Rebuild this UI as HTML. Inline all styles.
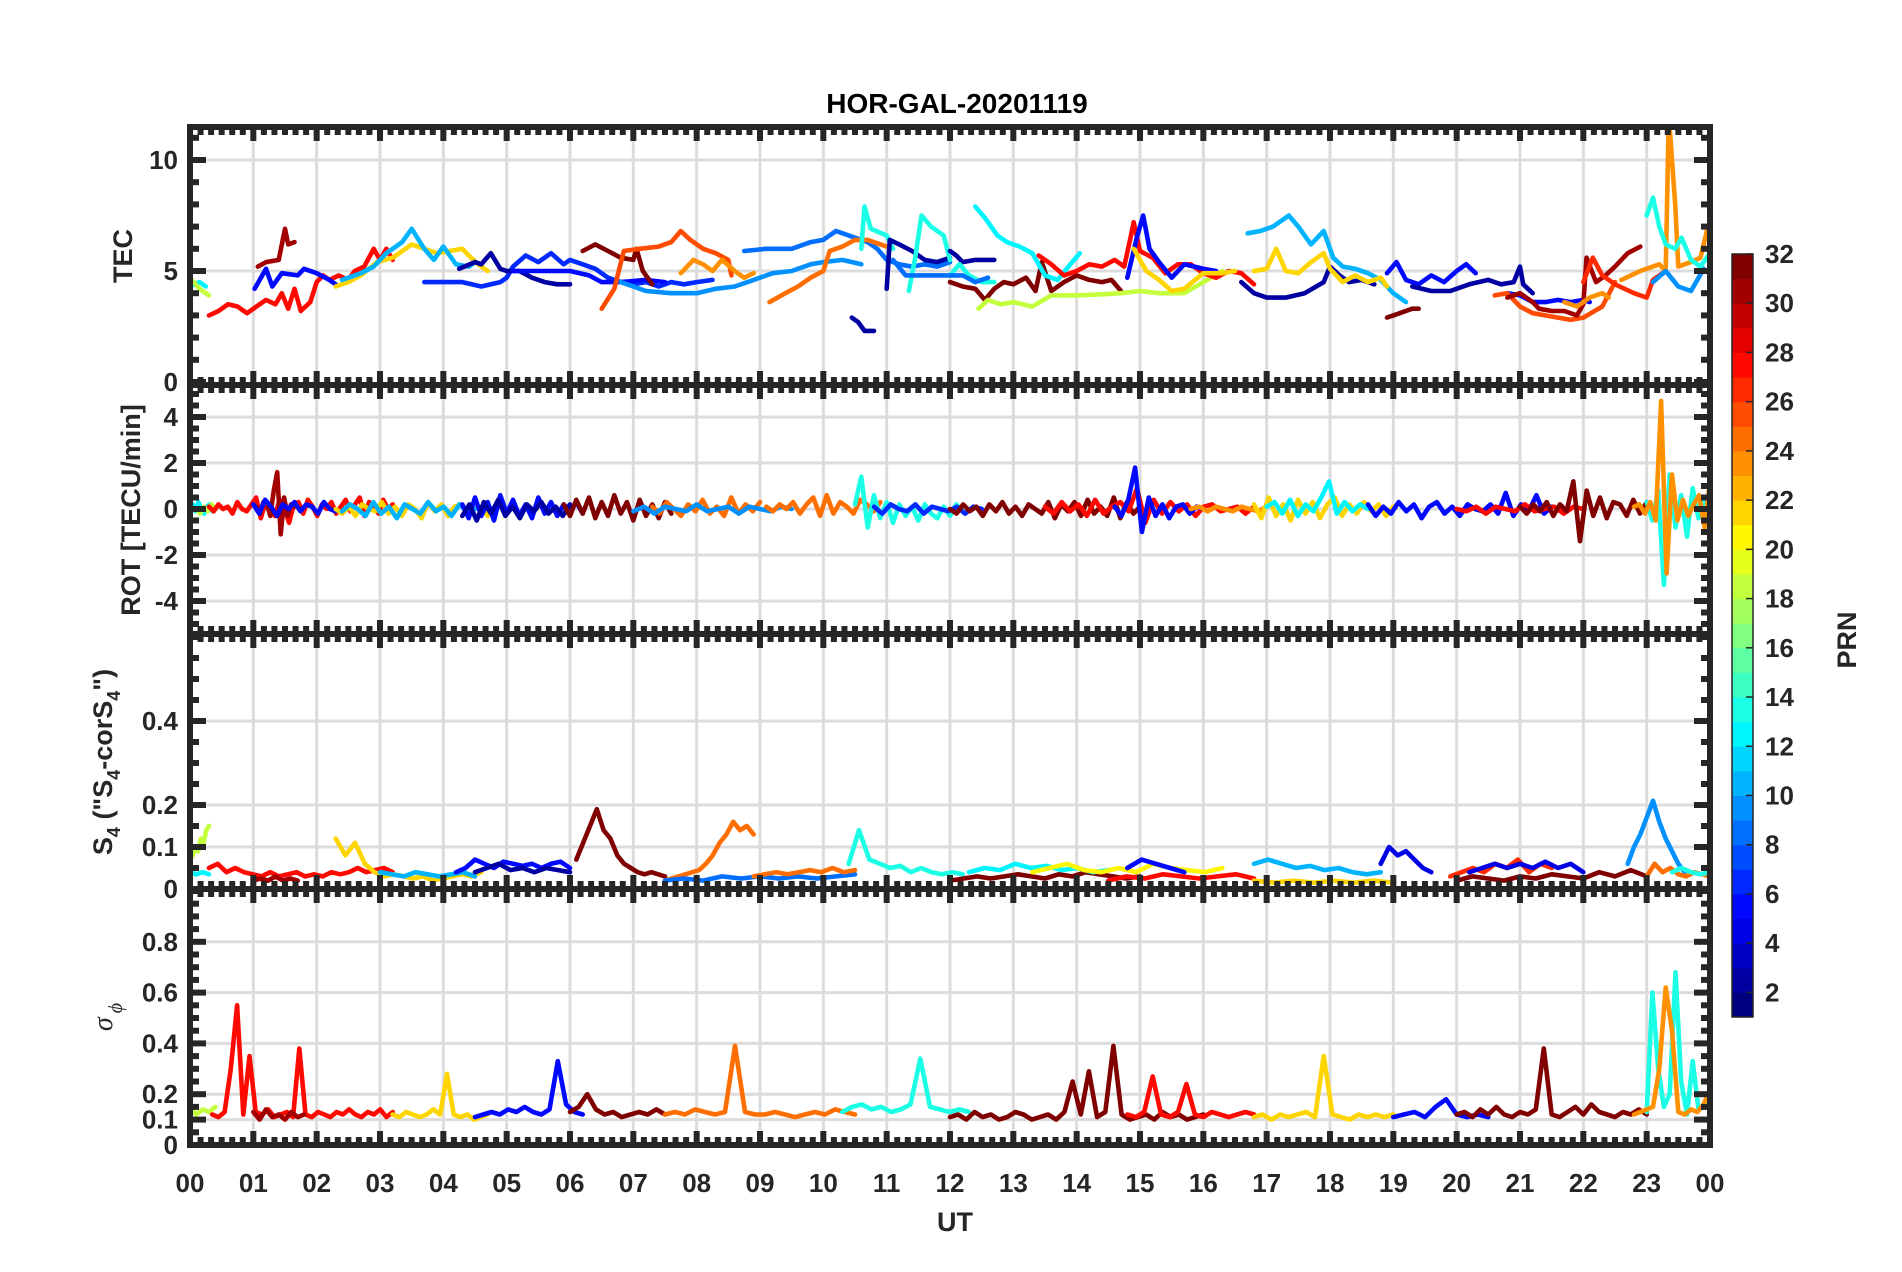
<!DOCTYPE html>
<html><head><meta charset="utf-8"><title>HOR-GAL-20201119</title>
<style>
html,body{margin:0;padding:0;background:#fff;}
svg{display:block;font-family:"Liberation Sans",Arial,sans-serif;}
</style></head>
<body>
<svg id="fig" width="1902" height="1272" viewBox="0 0 1902 1272" xmlns="http://www.w3.org/2000/svg">
<rect x="0" y="0" width="1902" height="1272" fill="#fff"/>
<text x="957" y="113" text-anchor="middle" font-size="28" font-weight="bold" fill="#000">HOR-GAL-20201119</text>
<g id="panels"></g>
<g id="cbar"></g>
<text x="955" y="1231" text-anchor="middle" font-size="27" font-weight="bold" fill="#262626">UT</text>
</svg>
<script>
// ---------------- DATA ----------------
const hourTicks = ["00","01","02","03","04","05","06","07","08","09","10","11","12","13","14","15","16","17","18","19","20","21","22","23","00"];
const cbarTicks = [2,4,6,8,10,12,14,16,18,20,22,24,26,28,30,32];

// TEC tracks
const tecPrn = [12,18,27,30,5,21,10,2,6,2,5,31,25,23,9,8,24,13,2,2,13,8,
  2,13,8,31,12,18,27,5,21,2,10,21,31,5,2,5,25,30,23,26,23,9,13];
const tecHours = [
 [0,0.15,0.25],[0,0.15,0.3],
 [0.3,0.45,0.6,0.75,0.9,1.05,1.2,1.35,1.45,1.55,1.65,1.75,1.9,2.0,2.1,2.2,2.35,2.5,2.6,2.75,2.9,3.0,3.1,3.2],
 [1.07,1.2,1.4,1.5,1.55,1.65],
 [1.02,1.2,1.3,1.45,1.7,1.8,2.0,2.2,2.3],
 [2.3,2.5,2.7,2.95,3.2,3.5,3.7,3.9,4.1,4.3,4.4,4.55,4.7],
 [2.4,2.7,2.9,3.1,3.35,3.5,3.7,3.85,4.0,4.2,4.4,4.5],
 [4.25,4.5,4.6,4.75,4.9,5.0],
 [3.7,4.0,4.3,4.6,4.9,5.0,5.1,5.3,5.5,5.7,5.9,6.0,6.2,6.4,6.6,6.8,7.0,7.2,7.4,7.6,7.8,8.0,8.25],
 [5.0,5.2,5.4,5.6,5.8,6.0],
 [5.1,5.5,6.0,6.3,6.5,6.8,7.2,7.5],
 [6.2,6.4,6.6,6.8,7.0,7.05,7.15,7.3],
 [6.5,6.7,6.85,7.1,7.4,7.6,7.75,7.9,8.1,8.3,8.5,8.55],
 [7.75,7.95,8.1,8.25,8.4,8.6,8.75,8.9],
 [6.8,7.2,7.6,8.0,8.3,8.6,8.9,9.2,9.5,9.8,10.0,10.3,10.6],
 [8.75,9.1,9.5,9.8,10.0,10.2,10.5,10.7,10.85,11.0,11.2,11.4,11.6,11.8,12.0],
 [9.15,9.4,9.6,9.8,10.0,10.1,10.3,10.5,10.7,11.0],
 [10.6,10.65,10.75,11.0,11.1],
 [10.45,10.55,10.65,10.8],
 [11.0,11.05,11.2,11.4,11.6,11.8,12.0],
 [11.35,11.45,11.55,11.7,11.9,12.0],
 [11.1,11.3,11.6,11.9,12.0],
 [12.0,12.1,12.2,12.4,12.7],
 [12.0,12.15,12.3,12.5,12.7],
 [12.0,12.2,12.4,12.6],
 [12.0,12.2,12.4,12.55,12.7,12.85,13.0,13.2,13.35,13.45,13.6,13.8,14.0,14.2,14.4,14.55,14.7],
 [12.4,12.55,12.75,12.9,13.1,13.3,13.5,13.7,13.9,14.05],
 [12.45,12.6,12.8,13.0,13.3,13.6,14.0,14.4,14.7,15.0,15.3,15.7,16.0,16.3],
 [13.4,13.6,13.8,14.0,14.2,14.4,14.6,14.75,14.85,14.9,15.0,15.2,15.4,15.6,15.8,16.0,16.2,16.4,16.6,16.8],
 [14.8,14.95,15.05,15.15,15.3,15.5,15.7,16.0,16.2],
 [14.9,15.1,15.3,15.5,15.7,16.0,16.3,16.5],
 [16.6,16.8,17.0,17.3,17.6,17.9,18.0,18.15,18.3,18.5,18.7],
 [16.7,16.9,17.1,17.35,17.5,17.7,17.9,18.05,18.2,18.4,18.6,18.8,19.0,19.2],
 [16.8,17.0,17.15,17.3,17.5,17.7,17.9,18.0,18.2,18.4,18.6,18.8,18.9],
 [18.9,19.1,19.3,19.4],
 [18.9,19.05,19.2,19.4,19.6,19.8,20.0,20.15,20.3],
 [19.3,19.6,19.9,20.2,20.5,20.7,20.9,21.0,21.05,21.2],
 [20.8,21.0,21.2,21.4,21.6,21.8,22.0,22.1],
 [20.6,20.8,21.0,21.2,21.4,21.6,21.8,22.0,22.3,22.5],
 [20.8,21.0,21.2,21.3,21.5,21.7,21.9,22.0,22.05,22.2,22.35,22.5,22.7,22.9],
 [21.7,21.9,22.1,22.3,22.4],
 [22.0,22.15,22.3,22.5,22.8,23.0,23.1,23.3],
 [22.6,22.9,23.2,23.3,23.35,23.45,23.5,23.7,23.85,23.95,24.0],
 [23.1,23.3,23.5,23.7,23.9],
 [23.0,23.1,23.2,23.3,23.45,23.55,23.7,23.85,24.0]
];
const tecValues = [
 [4.3,4.5,4.3],[4.7,4.2,3.9],
 [3.0,3.2,3.5,3.4,3.1,3.4,3.7,3.5,4.0,3.3,4.2,3.2,3.6,4.5,4.8,4.6,4.8,4.6,5.0,5.2,6.0,5.5,6.0,5.5],
 [5.2,5.4,5.5,6.9,6.2,6.3],
 [4.2,5.1,4.3,4.9,4.8,5.1,4.9,4.6,4.4],
 [4.3,4.5,4.8,5.4,5.6,6.2,6.0,5.8,5.9,6.0,5.7,5.3,5.0],
 [4.6,4.9,5.2,5.8,6.3,6.9,6.0,5.5,6.1,5.3,5.2,5.4],
 [5.1,5.4,5.3,5.8,5.1,5.0],
 [4.5,4.5,4.5,4.3,4.5,4.7,5.2,5.7,5.4,5.8,5.3,5.5,5.3,5.1,4.7,4.5,4.4,4.5,4.3,4.5,4.4,4.5,4.6],
 [5.0,5.0,4.7,4.5,4.4,4.4],
 [5.0,5.0,5.0,4.8,4.5,4.5,4.6,4.5],
 [5.9,6.2,5.9,5.6,5.5,6.0,5.0,4.4],
 [3.3,4.2,5.9,6.0,6.1,6.3,6.8,6.4,6.0,5.8,5.5,4.8],
 [4.9,5.5,5.3,5.0,5.5,5.0,4.7,4.9],
 [4.5,4.1,4.0,4.0,4.2,4.3,4.6,4.9,5.0,5.3,5.4,5.5,5.3],
 [5.9,6.0,6.0,6.3,6.4,6.8,6.5,6.3,6.0,5.5,5.3,5.2,5.3,5.2,5.4],
 [3.6,4.0,4.3,4.7,5.0,5.9,6.1,6.4,6.4,6.1],
 [6.0,7.9,6.9,6.6,6.0],
 [2.9,2.7,2.3,2.3],
 [4.2,6.4,6.2,5.9,5.5,5.4,5.6],
 [4.1,5.6,7.5,7.0,6.6,5.5],
 [5.5,4.8,4.8,4.8,4.8],
 [5.9,5.7,5.4,5.5,5.5],
 [4.8,5.3,4.8,4.5,4.5],
 [4.8,4.8,4.5,4.7],
 [4.5,4.3,4.2,3.7,4.2,4.5,4.4,4.7,4.1,5.4,4.1,4.5,4.8,4.6,4.5,4.6,4.1],
 [7.9,7.4,6.6,6.3,6.1,5.8,4.8,4.6,5.3,5.8],
 [3.3,3.7,3.5,3.6,3.4,3.9,3.9,3.95,4.0,4.1,4.0,4.0,4.5,5.0],
 [5.7,5.3,4.8,5.0,5.3,5.2,5.5,5.2,6.5,7.2,5.9,5.6,4.9,5.3,5.3,4.9,4.7,5.0,4.9,4.4],
 [4.7,6.5,7.5,6.0,5.4,4.7,5.3,5.1,5.0],
 [6.0,5.0,4.6,4.1,4.2,4.9,4.9,5.0],
 [4.5,4.0,3.8,3.8,4.0,4.5,5.2,4.8,4.5,4.6,4.4],
 [6.7,6.8,7.0,7.5,7.0,6.2,6.8,5.6,5.2,5.1,4.9,4.6,4.0,3.6],
 [5.0,5.1,6.0,5.0,4.9,5.4,5.8,5.1,4.5,4.8,4.5,4.7,4.3],
 [2.9,3.1,3.3,3.3],
 [4.9,5.4,4.6,4.4,4.8,4.5,5.0,5.3,4.9],
 [4.3,4.1,4.1,4.4,4.6,4.4,4.5,5.2,4.4,4.0],
 [4.0,3.9,3.6,3.6,3.7,3.6,3.7,3.6],
 [3.9,4.0,3.4,3.1,3.0,2.9,2.8,2.9,3.4,4.5],
 [3.8,4.0,3.6,3.3,3.2,3.2,3.0,3.5,5.6,4.5,4.8,5.2,5.8,6.1],
 [3.6,3.4,3.8,4.0,3.8],
 [4.5,5.6,4.8,4.4,4.0,3.8,4.6,5.0],
 [4.6,5.0,5.3,5.0,12,8.0,5.2,5.4,5.6,6.8,7.2],
 [4.5,5.0,4.3,4.1,5.1],
 [7.5,8.3,7.0,6.2,6.0,6.5,5.5,5.2,5.8]
];

// ROT segments (values evenly spaced between start and end hour)
const rotPrn = [12,18,27,30,5,21,10,5,2,31,24,9,24,13,6,31,27,5,23,21,12,5,27,31,13,23];
const rotStart = [0,0.1,0.3,1.05,1.0,2.3,2.4,4.3,4.3,5.9,7.3,7.0,9.1,10.5,10.8,12.0,13.5,14.6,15.8,16.8,17.0,18.6,20.0,21.0,23.0,22.8];
const rotEnd = [0.4,0.4,3.2,1.65,2.3,4.7,4.5,6.2,6.0,7.6,9.0,9.5,10.9,12.2,12.5,15.0,16.8,16.0,17.0,19.0,18.6,21.5,22.0,23.0,24.0,24.0];
const rotValues = [
 [0.1,0.2,-0.1,0.3,0,-0.2,0.1,0.2,-0.1,0],
 [0,-0.2,0.1,-0.1,0.2,0],
 [0.1,-0.1,0.2,0,0.1,-0.2,0.3,0,-0.1,0.2,0.5,-0.4,0.3,0.1,-0.3,0.4,0,-0.6,0.2,0.3,-0.2,0.4,0.1,-0.3,0.2,0,0.3,-0.2,0.1,0.4,-0.1,0.2,0.5,-0.3,0.3,0.1,-0.2,0.4,0,0.2],
 [0.1,-0.2,0.3,0.2,-0.3,0.8,1.6,-1.1,0.5,-0.3,0.2,0.1],
 [0.2,-0.2,0.4,0.1,-0.3,0.2,0,0.3,-0.1,0.2,0.1,-0.2,0.3,0,-0.1],
 [0,-0.2,0.1,-0.3,0.2,0,-0.1,0.3,-0.2,0.1,-0.3,0.2,0,-0.4,0.3,-0.1,0.2,-0.3,0.1,0.2,-0.2,0,0.1,-0.3],
 [-0.1,0.2,0,-0.3,0.3,-0.2,0.1,-0.4,0.2,0,-0.2,0.3,-0.1,0.1,-0.3,0.2,-0.1,0],
 [0.2,-0.4,0.5,-0.3,0.3,-0.5,0.6,-0.2,0.4,-0.3,0.2,-0.4,0.5,-0.2,0.3,-0.3,0.2,-0.1,0.3,-0.2],
 [-0.3,0.2,-0.5,0.3,-0.2,0.4,-0.3,0.1,-0.4,0.2,-0.1,0.3,-0.2,0.1,-0.3,0.2],
 [0.2,-0.3,0.4,-0.2,0.5,-0.4,0.3,-0.3,0.6,-0.2,0.3,-0.5,0.4,-0.3,0.2,-0.4,0.3,-0.2],
 [0.1,-0.2,0.3,0,-0.3,0.2,-0.1,0.4,-0.2,0.1,-0.3,0.5,-0.2,0.2,-0.1,0.3],
 [-0.1,0.1,-0.2,0.1,0,-0.1,0.2,-0.1,0,0.1,-0.2,0.1,0,-0.1,0.1,0],
 [0.1,-0.1,0.2,0,0.3,-0.2,0.2,0.5,-0.3,0.6,-0.2,0.3,0.1,-0.2,0.4,0.2,-0.1,0.3],
 [0.2,1.4,-0.8,0.6,-0.4,0.3,-0.6,0.2,-0.3,0.1,-0.5,0.2,-0.2,-0.4,0.1,-0.3,0.2,-0.1],
 [0.1,-0.2,0.2,0,-0.1,0.2,-0.2,0.1,0,-0.1,0.1,-0.2,0.1,0],
 [0,-0.2,0.2,-0.1,0.1,-0.3,0.2,-0.1,0.3,-0.2,0.1,-0.3,0.2,0,-0.2,0.3,-0.4,0.2,-0.1,0.3,-0.3,0.4,-0.2,0.1,-0.3,0.5,-0.4,0.3,-0.2,0.1],
 [0.1,-0.2,0.3,-0.1,0.2,-0.3,0.4,-0.2,0.1,0.3,-0.1,0.9,-0.6,0.4,-0.2,0.3,-0.1,0.2,-0.3,0.1,0.2,-0.1,0,0.1,-0.2,0.1],
 [0.1,-0.3,0.4,1.8,-1.0,0.5,-0.3,0.2,-0.4,0.1,0.2,-0.2,0.1,0],
 [0,0.1,-0.1,0.1,0,-0.1,0.1,0,-0.1,0.1],
 [0.2,-0.4,0.5,-0.3,0.2,-0.5,0.4,-0.2,0.3,-0.4,0.2,0.5,-0.3,0.2,-0.2,0.3,-0.1,0.2,-0.3,0.1],
 [0.1,0.3,-0.2,0.4,-0.3,0.2,-0.1,0.5,1.2,-0.2,0.3,-0.1,0.2,0],
 [0.2,-0.3,0.1,-0.2,0.3,-0.1,0.2,-0.4,0.1,0.3,-0.2,0.1,-0.3,0.2,0,-0.1,0.2,-0.2,0.7,-0.3,0.2,-0.1,0.6,-0.2,0.1],
 [0,-0.1,0.1,-0.2,0.1,0,-0.1,0.2,-0.1,0,0.1,-0.2,0.1,0],
 [0.1,-0.2,0.2,-0.1,0.3,-0.3,0.2,-0.1,1.2,-1.4,0.8,-0.3,0.5,-0.4,0.3,0.2,-0.3,0.4,-0.2,0.3],
 [0.3,-0.5,0.8,-3.3,1.5,-0.8,0.6,-1.2,0.9,-0.4,0.5,-0.3],
 [0.1,0.2,-0.2,0.3,-0.5,4.7,-2.8,1.5,-0.5,0.4,-0.3,0.2,0.6,-0.8,1.2]
];

// S4 segments
const s4Prn = [18,12,27,30,21,10,5,2,31,24,8,24,13,31,12,20,27,5,10,21,4,26,4,31,9,24,13];
const s4Start = [0,0,0.3,1.0,2.3,3.0,4.2,4.5,6.1,7.5,7.5,8.9,10.4,12.0,12.3,13.3,14.5,14.8,16.8,16.8,18.8,19.9,20.2,20.0,22.7,23.0,23.4];
const s4End = [0.3,0.3,3.2,1.7,4.6,4.5,6.0,6.0,7.5,8.9,10.5,10.5,12.2,15.0,14.5,16.3,16.8,15.7,18.8,19.0,19.6,21.5,22.0,23.0,23.6,24.0,24.0];
const s4Values = [
 [0.07,0.08,0.1,0.09,0.12,0.11,0.14,0.15],
 [0.04,0.035,0.04,0.035],
 [0.05,0.06,0.04,0.05,0.04,0.035,0.03,0.04,0.03,0.035,0.04,0.03,0.035,0.03,0.04,0.035,0.04,0.05,0.04,0.045,0.05,0.04],
 [0.02,0.025,0.02,0.03,0.02,0.025,0.02],
 [0.12,0.08,0.11,0.06,0.04,0.03,0.035,0.03,0.025,0.03,0.02,0.025,0.03,0.035,0.03,0.04],
 [0.04,0.035,0.03,0.04,0.035,0.03,0.035,0.04,0.03],
 [0.04,0.05,0.07,0.06,0.05,0.065,0.06,0.055,0.06,0.05,0.06,0.065,0.05],
 [0.04,0.05,0.06,0.045,0.05,0.04,0.05,0.045,0.04],
 [0.07,0.11,0.15,0.19,0.14,0.12,0.08,0.06,0.05,0.04,0.035,0.04,0.035,0.03],
 [0.02,0.025,0.03,0.035,0.04,0.045,0.06,0.08,0.11,0.13,0.16,0.14,0.15,0.13],
 [0.02,0.025,0.02,0.03,0.025,0.03,0.025,0.03,0.025,0.03,0.035],
 [0.03,0.035,0.04,0.035,0.04,0.045,0.04,0.05,0.04,0.045],
 [0.06,0.14,0.07,0.06,0.05,0.055,0.04,0.05,0.04,0.035,0.04,0.035],
 [0.02,0.025,0.03,0.025,0.03,0.035,0.03,0.025,0.035,0.03,0.04,0.035,0.03,0.025,0.03],
 [0.04,0.05,0.045,0.06,0.05,0.055,0.045,0.05,0.04,0.045],
 [0.04,0.05,0.06,0.045,0.04,0.05,0.04,0.06,0.05,0.045,0.04,0.05],
 [0.02,0.03,0.025,0.035,0.03,0.025,0.03,0.035,0.025],
 [0.05,0.07,0.06,0.05,0.04],
 [0.06,0.07,0.06,0.05,0.055,0.045,0.05,0.04,0.035,0.04],
 [0.02,0.015,0.02,0.015,0.02,0.015,0.02,0.015],
 [0.06,0.1,0.08,0.09,0.07,0.05,0.04],
 [0.03,0.04,0.05,0.04,0.06,0.05,0.07,0.04,0.06,0.05],
 [0.04,0.05,0.06,0.05,0.06,0.05,0.065,0.05,0.06,0.04],
 [0.02,0.03,0.025,0.02,0.03,0.025,0.035,0.03,0.025,0.04,0.03,0.045,0.03],
 [0.06,0.1,0.13,0.17,0.21,0.16,0.12,0.09,0.06,0.04],
 [0.03,0.06,0.04,0.05,0.035,0.03,0.04,0.035,0.03],
 [0.04,0.05,0.04,0.035,0.04]
];

// sigma-phi segments
const sigPrn = [18,27,30,21,5,31,24,13,31,27,21,5,31,13,23];
const sigStart = [0,0.35,1.0,3.2,4.5,6.0,7.5,10.3,12.0,14.8,16.8,19.0,20.0,23.0,22.8];
const sigEnd = [0.4,3.2,1.8,4.7,6.2,7.5,10.5,12.3,16.0,16.8,19.0,20.5,23.0,24.0,24.0];
const sigValues = [
 [0.15,0.12,0.14,0.13,0.15],
 [0.12,0.11,0.13,0.3,0.55,0.12,0.35,0.13,0.12,0.14,0.11,0.12,0.13,0.11,0.38,0.12,0.11,0.13,0.12,0.11,0.13,0.12,0.14,0.12,0.11,0.13,0.12,0.14,0.11,0.13],
 [0.13,0.1,0.14,0.11,0.12,0.1,0.13,0.11,0.12],
 [0.12,0.11,0.13,0.12,0.11,0.12,0.14,0.12,0.28,0.12,0.11,0.12,0.1,0.11,0.12],
 [0.11,0.12,0.13,0.12,0.14,0.13,0.15,0.13,0.12,0.14,0.33,0.16,0.13,0.12],
 [0.13,0.15,0.2,0.14,0.12,0.13,0.11,0.12,0.13,0.12,0.14,0.12],
 [0.12,0.13,0.12,0.14,0.13,0.12,0.13,0.39,0.13,0.12,0.12,0.13,0.12,0.11,0.12,0.13,0.12,0.14,0.13,0.12],
 [0.13,0.15,0.16,0.14,0.15,0.13,0.14,0.16,0.34,0.15,0.14,0.13,0.14,0.13],
 [0.11,0.12,0.1,0.13,0.11,0.12,0.1,0.11,0.13,0.12,0.1,0.11,0.12,0.1,0.13,0.25,0.12,0.29,0.11,0.13,0.39,0.12,0.1,0.11,0.12,0.1,0.13,0.11,0.12,0.1,0.11,0.12],
 [0.12,0.11,0.13,0.27,0.12,0.11,0.13,0.24,0.12,0.11,0.13,0.12,0.11,0.12,0.13,0.12],
 [0.11,0.12,0.1,0.12,0.11,0.12,0.13,0.11,0.35,0.12,0.11,0.1,0.12,0.11,0.12,0.11,0.12],
 [0.11,0.12,0.13,0.11,0.15,0.18,0.12,0.11,0.12,0.11],
 [0.12,0.13,0.11,0.14,0.12,0.15,0.12,0.11,0.13,0.12,0.14,0.38,0.12,0.11,0.13,0.15,0.12,0.16,0.13,0.12,0.11,0.13,0.12,0.14,0.12],
 [0.13,0.6,0.3,0.15,0.2,0.68,0.25,0.12,0.33,0.14,0.15,0.16],
 [0.12,0.13,0.14,0.15,0.3,0.62,0.45,0.13,0.12,0.14,0.13,0.16,0.22]
];

// ---------------- RENDER ----------------
const NS = "http://www.w3.org/2000/svg";
const X0 = 190, X1 = 1710;
function xH(h){ return X0 + h * (X1 - X0) / 24; }
function jet(p){
  let i = Math.min(30, Math.max(0, Math.floor(p - 1)));
  let t = i / 30;
  const c = v => Math.round(255 * Math.max(0, Math.min(1, v)));
  return `rgb(${c(1.5-Math.abs(4*t-3))},${c(1.5-Math.abs(4*t-2))},${c(1.5-Math.abs(4*t-1))})`;
}
function mk(tag, attrs, parent){
  const e = document.createElementNS(NS, tag);
  for (const k in attrs) e.setAttribute(k, attrs[k]);
  parent.appendChild(e);
  return e;
}
const panelsG = document.getElementById('panels');

const panels = [
  {name:'tec', top:127, bot:385, y:v=>382 - v*22.2, ticks:[0,5,10], labels:['0','5','10'], minor:1, vmin:0, vmax:11.5, grid:[5,10]},
  {name:'rot', top:385, bot:634, y:v=>509 - v*23, ticks:[-4,-2,0,2,4], labels:['-4','-2','0','2','4'], minor:0.5, vmin:-5.4, vmax:5.4, grid:[-4,-2,0,2,4]},
  {name:'s4', top:634, bot:889, y:v=>889 - v*420, ticks:[0,0.1,0.2,0.4], labels:['0','0.1','0.2','0.4'], minor:0.05, vmin:0, vmax:0.6, grid:[0.1,0.2,0.4]},
  {name:'sigma', top:889, bot:1145, y:v=>1145 - v*254, ticks:[0,0.1,0.2,0.4,0.6,0.8], labels:['0','0.1','0.2','0.4','0.6','0.8'], minor:0.05, vmin:0, vmax:1.0, grid:[0.1,0.2,0.4,0.6,0.8]}
];

panels.forEach((P, pi) => {
  const g = mk('g', {}, panelsG);
  
  
  const clipId = 'clip' + pi;
  const cp = mk('clipPath', {id: clipId}, g);
  mk('rect', {x:X0, y:P.top, width:X1-X0, height:P.bot-P.top}, cp);
  const grid = mk('g', {stroke:'#dcdcdc', 'stroke-width':3}, g);
  
  
  for (let h = 1; h < 24; h++) mk('line', {x1:xH(h), x2:xH(h), y1:P.top, y2:P.bot}, grid);
  P.grid.forEach(v => mk('line', {x1:X0, x2:X1, y1:P.y(v), y2:P.y(v)}, grid));
  const dg = mk('g', {'clip-path':`url(#${clipId})`, fill:'none', 'stroke-width':4.6, 'stroke-linejoin':'round', 'stroke-linecap':'round'}, g);
  
  
  let tracks = [];
  if (P.name === 'tec') {
    tecPrn.forEach((p, i) => tracks.push({p, pts: tecHours[i].map((h, j) => [h, tecValues[i][j]])}));
  } else {
    const pr = P.name==='rot'?rotPrn:P.name==='s4'?s4Prn:sigPrn;
    const st = P.name==='rot'?rotStart:P.name==='s4'?s4Start:sigStart;
    const en = P.name==='rot'?rotEnd:P.name==='s4'?s4End:sigEnd;
    const vals = P.name==='rot'?rotValues:P.name==='s4'?s4Values:sigValues;
    pr.forEach((p, i) => {
      const n = vals[i].length;
      tracks.push({p, pts: vals[i].map((v, j) => [st[i] + (en[i]-st[i]) * j / (n-1), v])});
    });
  }
  tracks.forEach((t) => {
    const pl = mk('polyline', {stroke: jet(t.p), points: t.pts.map(q => xH(q[0]).toFixed(1) + ',' + P.y(q[1]).toFixed(1)).join(' ')}, dg);
    
    
  });
  const tg = mk('g', {stroke:'#262626', 'stroke-width':6}, g);
  
  
  for (let m = 0; m <= 144; m++) {
    const x = xH(m/6), L = (m % 6 === 0) ? 14 : 8;
    mk('line', {x1:x, x2:x, y1:P.top, y2:P.top+L}, tg);
    mk('line', {x1:x, x2:x, y1:P.bot, y2:P.bot-L}, tg);
  }
  for (let v = Math.ceil(P.vmin / P.minor) * P.minor; v <= P.vmax + 1e-9; v += P.minor) {
    const isMajor = P.ticks.some(t => Math.abs(t - v) < 1e-6);
    const y = P.y(v), L = isMajor ? 16 : 9;
    if (y < P.top + 2 || y > P.bot - 2) continue;
    mk('line', {x1:X0, x2:X0+L, y1:y, y2:y}, tg);
    mk('line', {x1:X1, x2:X1-L, y1:y, y2:y}, tg);
  }
  const box = mk('rect', {x:X0, y:P.top, width:X1-X0, height:P.bot-P.top, fill:'none', stroke:'#262626', 'stroke-width':6}, g);
  
  
  P.ticks.forEach((v, k) => {
    const tx = mk('text', {x:X0-12, y:P.y(v)+9, 'text-anchor':'end', 'font-size':26, 'font-weight':'bold', fill:'#262626'}, g);
    tx.textContent = P.labels[k];
    
    
  });
});

const xl = mk('g', {'font-size':26, 'font-weight':'bold', fill:'#262626', 'text-anchor':'middle'}, panelsG);


hourTicks.forEach((s, h) => {
  const t = mk('text', {x:xH(h), y:1192}, xl);
  t.textContent = s;
  
  
});

function ytitle(name, x, y, html, extra){
  const t = mk('text', Object.assign({transform:`translate(${x},${y}) rotate(-90)`, 'text-anchor':'middle', 'font-size':27, 'font-weight':'bold', fill:'#262626'}, extra||{}), panelsG);
  t.innerHTML = html;
  
  
}
ytitle('tec-axis-title', 132, 256, 'TEC');
ytitle('rot-axis-title', 140, 510, 'ROT [TECU/min]');
ytitle('s4-axis-title', 112, 762, 'S<tspan font-size="18" dy="8">4</tspan><tspan dy="-8"> ("S</tspan><tspan font-size="18" dy="8">4</tspan><tspan dy="-8">-corS</tspan><tspan font-size="18" dy="8">4</tspan><tspan dy="-8">")</tspan>');
ytitle('sigma-axis-title', 112, 1017, 'σ<tspan font-size="20" dy="10" dx="4">ϕ</tspan>', {'font-weight':'normal','font-style':'italic','font-family':'"Liberation Serif",serif','font-size':28});

const cb = document.getElementById('cbar');


const CB_X = 1732, CB_W = 21, CB_TOP = 254, CB_BOT = 1017;
function cbY(v){ return CB_BOT - (v - 1) * (CB_BOT - CB_TOP) / 31; }
for (let i = 0; i < 31; i++) {
  const r = mk('rect', {x:CB_X, y:cbY(i+2), width:CB_W, height:cbY(i+1)-cbY(i+2)+0.5, fill: jet(i+1)}, cb);
  
  
}
mk('rect', {x:CB_X, y:CB_TOP, width:CB_W, height:CB_BOT-CB_TOP, fill:'none', stroke:'#262626', 'stroke-width':1.5}, cb);
cbarTicks.forEach(v => {
  mk('line', {x1:CB_X+CB_W-7, x2:CB_X+CB_W, y1:cbY(v), y2:cbY(v), stroke:'#262626', 'stroke-width':1.5}, cb);
  const t = mk('text', {x:CB_X+CB_W+12, y:cbY(v)+9, 'font-size':26, 'font-weight':'bold', fill:'#262626'}, cb);
  t.textContent = v;
  
  
});
const prn = mk('text', {transform:'translate(1856,640) rotate(-90)', 'text-anchor':'middle', 'font-size':27, 'font-weight':'bold', fill:'#262626'}, cb);
prn.textContent = 'PRN';


</script>
</body></html>
